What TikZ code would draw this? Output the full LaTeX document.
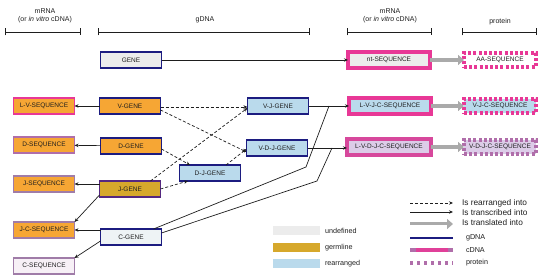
\documentclass[tikz,border=0pt]{standalone}
\usepackage{fontspec}
\setmainfont{Liberation Sans}
\usetikzlibrary{arrows.meta}
\definecolor{IgNavy}{RGB}{28,28,128}
\definecolor{IgPurple}{RGB}{84,40,128}
\definecolor{IgPink}{RGB}{232,56,150}
\definecolor{IgMauve}{RGB}{160,124,168}
\definecolor{IgPlum}{RGB}{176,110,170}
\definecolor{IgOrange}{RGB}{246,166,52}
\definecolor{IgGold}{RGB}{214,168,44}
\definecolor{IgBlue}{RGB}{186,218,236}
\definecolor{IgLilac}{RGB}{220,204,232}
\definecolor{IgGrey}{RGB}{236,236,236}
\definecolor{IgPale}{RGB}{238,243,245}
\definecolor{IgBlush}{RGB}{247,240,246}
\definecolor{IgArrow}{RGB}{170,170,170}
\definecolor{IgInk}{RGB}{30,30,30}
\tikzset{
    ig/diagram/.style={
        x=1pt, y=-1pt,
        font=\fontsize{6.5}{7}\selectfont,
        text=IgInk,
        line cap=butt,
        line join=miter,
        every node/.style={inner sep=1pt, outer sep=0pt}
    },
    ig/box/.style={
        rectangle, minimum width=61pt, minimum height=16pt
    },
    ig/gdna/.style={ig/box, draw=IgNavy, line width=1.6pt},
    ig/mrna/.style={ig/box, draw=IgMauve, line width=1.6pt},
    ig/cdna/.style={
        ig/box, draw=IgPink, line width=3.4pt,
        minimum width=82pt, minimum height=16pt
    },
    ig/protein/.style={
        ig/box, draw=IgPink, line width=3.4pt,
        dash pattern=on 3pt off 2.2pt,
        minimum width=72pt, minimum height=14pt
    },
    ig/span/.style={
        draw=IgInk, line width=0.9pt,
        {Bar[width=7pt]}-{Bar[width=7pt]}
    },
    ig/head/.style={align=center, font=\fontsize{7}{8.4}\selectfont},
    ig/rearranged/.style={
        draw=IgInk, line width=0.7pt, dash pattern=on 3pt off 2pt,
        -{Stealth[length=4pt, width=3.4pt]}
    },
    ig/transcribed/.style={
        draw=IgInk, line width=0.7pt,
        -{Stealth[length=4pt, width=3.4pt]}
    },
    ig/translated/.style={
        draw=IgArrow, line width=3.6pt,
        -{Triangle[length=6pt, width=10pt]}
    },
    ig/swatch/.style={minimum width=47pt, minimum height=9pt, draw=none},
    ig/key/.style={anchor=west, font=\fontsize{7.2}{8}\selectfont},
    ig/bigkey/.style={anchor=west, font=\fontsize{8.3}{9}\selectfont}
}
\begin{document}
\begin{tikzpicture}[ig/diagram]
    \useasboundingbox (0,0) rectangle (550,280);
    % stage headings
    \node[ig/head] (h1) at (45,16) {mRNA\\(or \textit{in vitro} cDNA)};
    \node[ig/head] (h2) at (205,20) {gDNA};
    \node[ig/head] (h3) at (390,16) {mRNA\\(or \textit{in vitro} cDNA)};
    \node[ig/head] (h4) at (500,22) {protein};
    \coordinate (s1a) at (5,32);   \coordinate (s1b) at (81,32);
    \coordinate (s2a) at (98,32);  \coordinate (s2b) at (310,32);
    \coordinate (s3a) at (347,32); \coordinate (s3b) at (432,32);
    \coordinate (s4a) at (462,32); \coordinate (s4b) at (537,32);
    \draw[ig/span] (s1a) -- (s1b);
    \draw[ig/span] (s2a) -- (s2b);
    \draw[ig/span] (s3a) -- (s3b);
    \draw[ig/span] (s4a) -- (s4b);
    % genomic segments
    \node[ig/gdna, fill=IgGrey] (gene) at (131,60) {GENE};
    \node[ig/gdna, fill=IgOrange] (vgene) at (130,106) {V-GENE};
    \node[ig/gdna, fill=IgOrange] (dgene) at (131,146) {D-GENE};
    \node[ig/gdna, fill=IgGold, draw=IgPurple] (jgene) at (130,189) {J-GENE};
    \node[ig/gdna, fill=IgPale] (cgene) at (131,237) {C-GENE};
    \node[ig/gdna, fill=IgBlue] (djgene) at (210,173) {D-J-GENE};
    \node[ig/gdna, fill=IgBlue] (vjgene) at (278,106) {V-J-GENE};
    \node[ig/gdna, fill=IgBlue] (vdjgene) at (277,148) {V-D-J-GENE};
    % transcripts
    \node[ig/mrna, fill=IgOrange, draw=IgPink] (lvseq) at (44,106) {L-V-SEQUENCE};
    \node[ig/mrna, fill=IgOrange, draw=IgPlum] (dseq) at (44,145) {D-SEQUENCE};
    \node[ig/mrna, fill=IgOrange] (jseq) at (44,184) {J-SEQUENCE};
    \node[ig/mrna, fill=IgOrange] (jcseq) at (44,230) {J-C-SEQUENCE};
    \node[ig/mrna, fill=IgBlush] (cseq) at (44,266) {C-SEQUENCE};
    \node[ig/cdna, fill=IgGrey] (ntseq) at (389,60) {nt-SEQUENCE};
    \node[ig/cdna, fill=IgBlue] (lvjcseq) at (390,106) {L-V-J-C-SEQUENCE};
    \node[ig/cdna, fill=IgLilac, draw=IgPink!70!IgPlum, minimum width=84pt]
        (lvdjcseq) at (389,147) {L-V-D-J-C-SEQUENCE};
    % proteins
    \node[ig/protein, fill=white] (aaseq) at (500,60) {AA-SEQUENCE};
    \node[ig/protein, fill=IgBlue] (vjcprot) at (500,106) {V-J-C-SEQUENCE};
    \node[ig/protein, fill=IgLilac, draw=IgPlum] (vdjcprot) at (500,147) {V-D-J-C-SEQUENCE};
    % rearrangements
    \draw[ig/rearranged] ([yshift=-1pt]vgene.east) -- ([yshift=-1pt]vgene.east -| vjgene.west);
    \draw[ig/rearranged] ([yshift=-4pt]vgene.east) -- ([yshift=-4pt]vdjgene.west);
    \draw[ig/rearranged] ([xshift=-10pt]jgene.north east) -- ([yshift=-2pt]vjgene.west);
    \draw[ig/rearranged] ([yshift=-3pt]dgene.east) -- ([xshift=-20pt]djgene.north);
    \draw[ig/rearranged] (jgene.east) -- ([xshift=-22pt]djgene.south);
    \draw[ig/rearranged] ([xshift=16pt]djgene.north) -- ([yshift=-1pt]vdjgene.west);
    % transcription
    \coordinate (bendvj) at (306,167);
    \coordinate (joinvj) at (329,106);
    \coordinate (bendvdj) at (317,181);
    \coordinate (joinvdj) at (332,148);
    \draw[ig/transcribed] (gene) -- (ntseq);
    \draw[ig/transcribed] (vgene) -- (lvseq);
    \draw[ig/transcribed] (dgene) -- (dseq);
    \draw[ig/transcribed] (jgene.west |- jseq) -- (jseq);
    \draw[ig/transcribed] ([yshift=2pt]jgene.south west) -- (jcseq.north east);
    \draw[ig/transcribed] (cgene.west |- jcseq) -- (jcseq);
    \draw[ig/transcribed] ([yshift=4pt]cgene.south west) -- (cseq.north east);
    \draw[ig/transcribed] (vjgene) -- (lvjcseq);
    \draw[ig/transcribed] (vdjgene.east) -- (vdjgene.east -| lvdjcseq.west);
    \draw[draw=IgInk, line width=0.7pt] ([xshift=-8pt]cgene.north east) -- (bendvj) -- (joinvj);
    \draw[draw=IgInk, line width=0.7pt] ([yshift=-4pt]cgene.north east) -- (bendvdj) -- (joinvdj);
    % translation
    \draw[ig/translated] (ntseq) -- (aaseq);
    \draw[ig/translated] (lvjcseq) -- (vjcprot);
    \draw[ig/translated] (lvdjcseq) -- (vdjcprot);
    % legend: segment state
    \node[ig/swatch, fill=IgGrey] (kundef) at (296,231) {};
    \node[ig/swatch, fill=IgGold] (kgerm) at (296,248) {};
    \node[ig/swatch, fill=IgBlue] (krearr) at (296,264) {};
    \node[ig/key] (tundef) at (324,231) {undefined};
    \node[ig/key] (tgerm) at (324,248) {germline};
    \node[ig/key] (trearr) at (324,264) {rearranged};
    % legend: links and molecules
    \coordinate (ka1) at (410,203); \coordinate (kb1) at (453,203);
    \coordinate (ka2) at (410,212); \coordinate (kb2) at (453,212);
    \coordinate (ka3) at (410,224); \coordinate (kb3) at (453,224);
    \coordinate (ka4) at (410,238); \coordinate (kb4) at (453,238);
    \coordinate (ka5) at (410,250); \coordinate (kb5) at (453,250);
    \coordinate (ka6) at (410,263); \coordinate (kb6) at (453,263);
    \draw[ig/rearranged] (ka1) -- (kb1);
    \draw[ig/transcribed] (ka2) -- (kb2);
    \draw[ig/translated, line width=3pt] (ka3) -- (kb3);
    \draw[draw=IgNavy, line width=1.6pt] (ka4) -- (kb4);
    \draw[draw=IgPlum, line width=3.4pt] (ka5) -- (kb5);
    \draw[draw=IgPink!85!IgPlum, line width=3.4pt] ([xshift=6pt]ka5) -- ([xshift=-5pt]kb5);
    \draw[draw=IgPlum, line width=3.4pt, dash pattern=on 3pt off 4pt] (ka6) -- (kb6);
    \node[ig/bigkey] (t1) at (461,203) {Is rearranged into};
    \node[ig/bigkey] (t2) at (461,213) {Is transcribed into};
    \node[ig/bigkey] (t3) at (461,223) {Is translated into};
    \node[ig/key] (t4) at (465,238) {gDNA};
    \node[ig/key] (t5) at (465,250) {cDNA};
    \node[ig/key] (t6) at (465,263) {protein};
\end{tikzpicture}
\end{document}
